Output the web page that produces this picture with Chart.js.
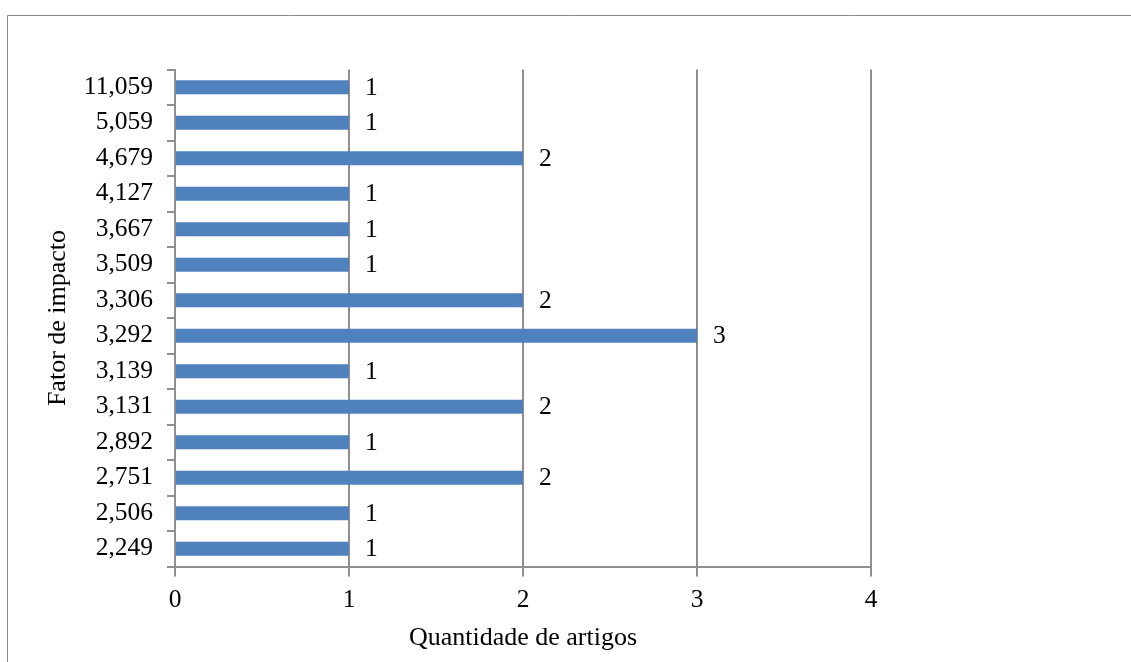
<!DOCTYPE html>
<html>
<head>
<meta charset="utf-8">
<script src="https://cdn.jsdelivr.net/npm/chart.js@4"></script>
<style>
  html, body { margin: 0; padding: 0; background: #fff; }
  #wrap { width: 1131px; height: 662px; position: relative; }
</style>
</head>
<body>
<div id="wrap"><canvas id="chart" width="1131" height="662"></canvas></div>
<script>
// fator de impacto (de cima para baixo) e quantidade de artigos
const categorias = ['11,059', '5,059', '4,679', '4,127', '3,667', '3,509', '3,306',
  '3,292', '3,139', '3,131', '2,892', '2,751', '2,506', '2,249'];
const quantidades = [1, 1, 2, 1, 1, 1, 2, 3, 1, 2, 1, 2, 1, 1];
const ticksX = [0, 1, 2, 3, 4];

const fonte = 'Liberation Serif, Times New Roman, serif';
const cinza = '#8f8f8f';

// moldura cinza (topo e esquerda) como no original
const moldura = {
  id: 'moldura',
  beforeDraw(chart) {
    const ctx = chart.ctx;
    ctx.save();
    ctx.fillStyle = '#fff';
    ctx.fillRect(0, 0, chart.width, chart.height);
    ctx.strokeStyle = '#8a8a8a';
    ctx.lineWidth = 1;
    ctx.beginPath();
    ctx.moveTo(7.5, chart.height);
    ctx.lineTo(7.5, 15.5);
    ctx.lineTo(chart.width, 15.5);
    ctx.stroke();
    ctx.restore();
  }
};

// rótulos de valor à direita das barras
const rotulos = {
  id: 'rotulos',
  afterDatasetsDraw(chart) {
    const ctx = chart.ctx;
    const meta = chart.getDatasetMeta(0);
    ctx.save();
    ctx.font = '25.5px ' + fonte;
    ctx.fillStyle = '#000';
    ctx.textAlign = 'left';
    ctx.textBaseline = 'middle';
    meta.data.forEach((bar, i) => {
      ctx.fillText(String(quantidades[i]), bar.x + 16, bar.y + 1);
    });
    ctx.restore();
  }
};

new Chart(document.getElementById('chart'), {
  type: 'bar',
  data: {
    labels: categorias,
    datasets: [{
      data: quantidades,
      backgroundColor: '#4f81bd',
      borderWidth: 0,
      barPercentage: 0.4,
      categoryPercentage: 1
    }]
  },
  options: {
    indexAxis: 'y',
    responsive: false,
    animation: false,
    layout: { padding: { left: 0, top: 69.5, right: 260, bottom: 0 } },
    plugins: {
      legend: { display: false },
      tooltip: { enabled: false }
    },
    scales: {
      x: {
        min: 0,
        max: 4,
        afterBuildTicks: (scale) => { scale.ticks = ticksX.map(v => ({ value: v })); },
        afterFit: (scale) => { scale.height = 95.5; },
        grid: { color: cinza, lineWidth: 2, tickLength: 10, drawOnChartArea: true },
        border: { color: cinza, width: 2 },
        ticks: { color: '#000', font: { family: fonte, size: 25.5 }, padding: 8 },
        title: {
          display: true,
          text: 'Quantidade de artigos',
          color: '#000',
          font: { family: fonte, size: 26 },
          padding: { top: 0, bottom: 8 }
        }
      },
      y: {
        afterFit: (scale) => { scale.width = 175; },
        grid: { color: cinza, lineWidth: 2, tickLength: 8, drawOnChartArea: false, offset: true },
        border: { color: cinza, width: 2 },
        ticks: { color: '#000', font: { family: fonte, size: 25.5 }, padding: 14 },
        title: {
          display: true,
          text: 'Fator de impacto',
          color: '#000',
          font: { family: fonte, size: 26 },
          padding: { top: 43, bottom: 0 }
        }
      }
    }
  },
  plugins: [moldura, rotulos]
});
</script>
</body>
</html>
